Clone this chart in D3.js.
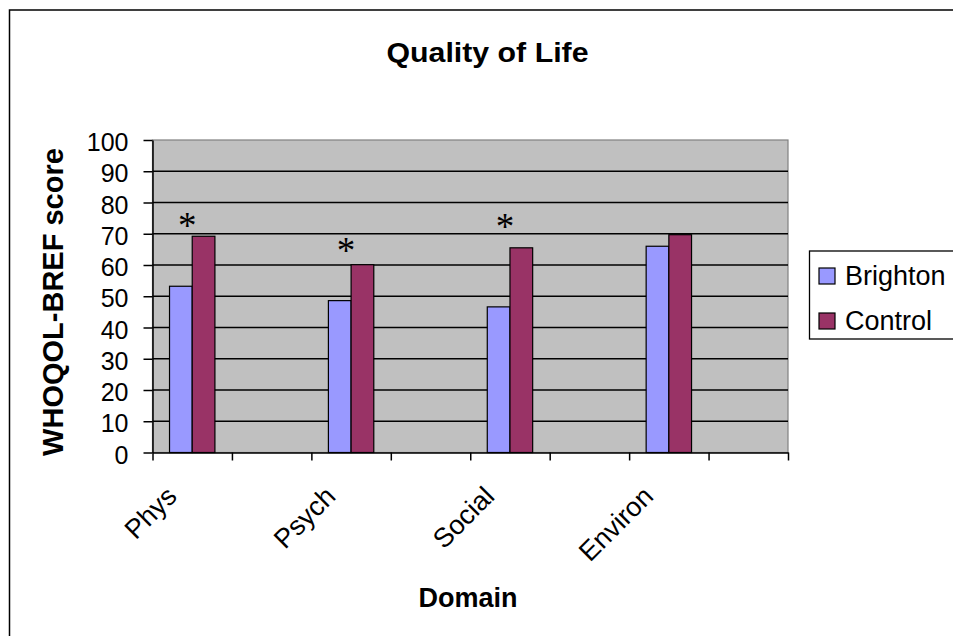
<!DOCTYPE html>
<html>
  <head>
    <meta charset="utf-8" />
    <script src="https://d3js.org/d3.v7.min.js"></script>
    <style>
      body { margin: 0; background: #fff; }
      text { font-family: "Liberation Sans", Arial, sans-serif; }
    </style>
  </head>
  <body>
    <svg id="chart" width="953" height="636"></svg>

    <script>
      // categories (empty slots are blank columns in the original sheet)
      const categories = ["Phys", "", "Psych", "", "Social", "", "Environ", ""];
      const seriesNames = ["Brighton", "Control"];
      const brighton = [53.2, null, 48.6, null, 46.6, null, 66.0, null];
      const control = [69.2, null, 60.1, null, 65.5, null, 69.7, null];
      // height (in score units) of the * significance marks
      const sigMarks = [74.7, null, 66.7, null, 74.4, null, null, null];
      const yTicks = [0, 10, 20, 30, 40, 50, 60, 70, 80, 90, 100];

      var plot = { left: 152.5, right: 788, top: 140, bottom: 452.5 };
      var colors = { Brighton: "#9999FF", Control: "#993366" };

      var svg = d3.select("#chart");

      // outer chart border (cut off on the right / bottom)
      svg.append("rect")
        .attr("x", 9.5).attr("y", 10)
        .attr("width", 1000).attr("height", 700)
        .attr("fill", "#fff")
        .attr("stroke", "#000")
        .attr("stroke-width", 1.5);

      var slots = d3.range(categories.length);
      var x0 = d3.scaleBand().domain(slots).range([plot.left, plot.right]).padding(0);
      var x1 = d3.scaleBand().domain(seriesNames).range([0, x0.bandwidth()])
        .paddingInner(0).paddingOuter(0.75);
      var y = d3.scaleLinear().domain([0, 100]).range([plot.bottom, plot.top]);

      // plot area
      svg.append("rect")
        .attr("x", plot.left).attr("y", plot.top)
        .attr("width", plot.right - plot.left)
        .attr("height", plot.bottom - plot.top)
        .attr("fill", "#C0C0C0")
        .attr("stroke", "#808080")
        .attr("stroke-width", 1.2);

      // gridlines
      svg.append("g")
        .selectAll("line")
        .data(yTicks.filter((d) => d > 0 && d < 100))
        .enter()
        .append("line")
        .attr("x1", plot.left).attr("x2", plot.right)
        .attr("y1", (d) => y(d)).attr("y2", (d) => y(d))
        .attr("stroke", "#000")
        .attr("stroke-width", 1.4);

      // bars
      var rows = slots.map((i) => ({ i: i, Brighton: brighton[i], Control: control[i] }));
      svg.append("g")
        .selectAll("g")
        .data(rows.filter((r) => r.Brighton != null))
        .enter()
        .append("g")
        .attr("transform", (d) => "translate(" + x0(d.i) + ",0)")
        .selectAll("rect")
        .data((d) => seriesNames.map((k) => ({ key: k, value: d[k] })))
        .enter()
        .append("rect")
        .attr("x", (d) => x1(d.key))
        .attr("y", (d) => y(d.value))
        .attr("width", x1.bandwidth())
        .attr("height", (d) => y(0) - y(d.value))
        .attr("fill", (d) => colors[d.key])
        .attr("stroke", "#000")
        .attr("stroke-width", 1.2);

      // significance marks
      svg.append("g")
        .selectAll("text")
        .data(slots.filter((i) => sigMarks[i] != null))
        .enter()
        .append("text")
        .attr("x", (i) => x0(i) + x0.bandwidth() / 2 - 5)
        .attr("y", (i) => y(sigMarks[i]) + 19)
        .attr("text-anchor", "middle")
        .style("font-family", "'Liberation Serif', 'Times New Roman', serif")
        .attr("font-size", 37)
        .text("*");

      // y axis
      var yAxis = svg.append("g")
        .attr("transform", "translate(" + plot.left + ",0)")
        .call(d3.axisLeft(y).tickValues(yTicks).tickSize(9).tickPadding(15).tickSizeOuter(0));
      yAxis.select(".domain").attr("stroke-width", 1.5);
      yAxis.selectAll(".tick line").attr("stroke-width", 1.5);
      yAxis.selectAll(".tick text")
        .attr("font-size", 25)
        .attr("font-family", "'Liberation Sans', Arial, sans-serif")
        .attr("fill", "#000")
        .attr("dy", "0.42em");

      // x axis: tick marks on the category boundaries
      var xb = d3.scaleLinear().domain([0, categories.length]).range([plot.left, plot.right]);
      var xAxis = svg.append("g")
        .attr("transform", "translate(0," + plot.bottom + ")")
        .call(d3.axisBottom(xb).ticks(categories.length).tickSize(8).tickFormat("").tickSizeOuter(0));
      xAxis.select(".domain").attr("stroke-width", 1.5);
      xAxis.selectAll(".tick line").attr("stroke-width", 1.5);

      // rotated category labels
      svg.append("g")
        .selectAll("text")
        .data(slots.filter((i) => categories[i] !== ""))
        .enter()
        .append("text")
        .attr("transform", (i) =>
          "translate(" + (x0(i) + x0.bandwidth() / 2 - 14) + ",498) rotate(-45)")
        .attr("text-anchor", "end")
        .attr("font-size", 27)
        .text((i) => categories[i]);

      // titles
      svg.append("text")
        .attr("x", 487.5).attr("y", 62)
        .attr("text-anchor", "middle")
        .attr("font-size", 28)
        .attr("font-weight", "bold")
        .attr("textLength", 202)
        .attr("lengthAdjust", "spacingAndGlyphs")
        .text("Quality of Life");

      svg.append("text")
        .attr("transform", "translate(63,302) rotate(-90)")
        .attr("text-anchor", "middle")
        .attr("font-size", 29)
        .attr("font-weight", "bold")
        .text("WHOQOL-BREF score");

      svg.append("text")
        .attr("x", 468).attr("y", 607)
        .attr("text-anchor", "middle")
        .attr("font-size", 27)
        .attr("font-weight", "bold")
        .text("Domain");

      // legend
      var legend = svg.append("g").attr("transform", "translate(809,251)");
      legend.append("rect")
        .attr("x", 0.5).attr("y", 0)
        .attr("width", 200).attr("height", 88)
        .attr("fill", "#fff")
        .attr("stroke", "#000")
        .attr("stroke-width", 1.3);

      legend.selectAll("rect.key")
        .data(seriesNames)
        .enter()
        .append("rect")
        .attr("class", "key")
        .attr("x", 10)
        .attr("y", (d, i) => 17 + i * 45)
        .attr("width", 16)
        .attr("height", 16)
        .attr("fill", (d) => colors[d])
        .attr("stroke", "#000")
        .attr("stroke-width", 1.2);

      legend.selectAll("text")
        .data(seriesNames)
        .enter()
        .append("text")
        .attr("x", 36)
        .attr("y", (d, i) => 34 + i * 45)
        .attr("font-size", 27)
        .text((d) => d);
    </script>
  </body>
</html>
